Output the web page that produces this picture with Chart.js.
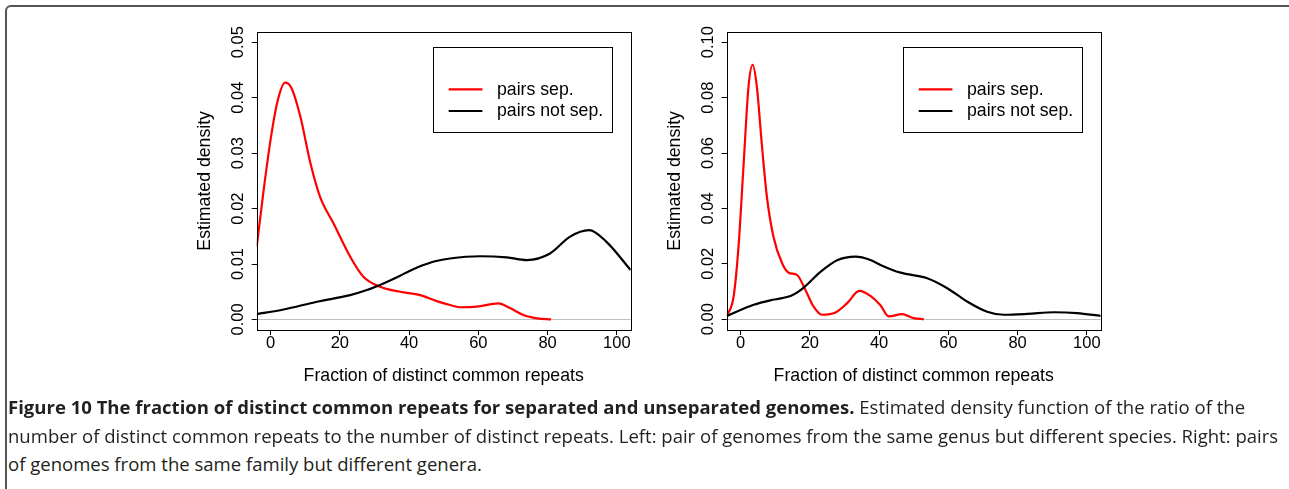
<!DOCTYPE html>
<html><head><meta charset="utf-8">
<script src="https://cdn.jsdelivr.net/npm/chart.js@4.4.1/dist/chart.umd.min.js"></script>
<style>
html,body{margin:0;padding:0;background:#fff;width:1289px;height:489px;overflow:hidden;}
#frame{position:absolute;left:5px;top:5px;width:1290px;height:530px;border-top:2px solid #555;border-left:2px solid #555;border-radius:6px;box-sizing:border-box;}
canvas{position:absolute;}
.cap{position:absolute;left:8px;white-space:nowrap;font-family:'Open Sans';font-size:18px;line-height:18px;color:#231f20;transform-origin:0 0;}
.cap b{font-weight:700;}
</style></head>
<body>
<div id="frame"></div>
<canvas id="left" width="450" height="380" style="left:190px;top:20px"></canvas>
<canvas id="right" width="450" height="380" style="left:660px;top:20px"></canvas>
<div class="cap" data-w="1244" style="top:398px"><b>Figure 10 The fraction of distinct common repeats for separated and unseparated genomes.</b> Estimated density function of the ratio of the</div>
<div class="cap" data-w="1263" style="top:426.5px">number of distinct common repeats to the number of distinct repeats. Left: pair of genomes from the same genus but different species. Right: pairs</div>
<div class="cap" style="top:455px">of genomes from the same family but different genera.</div>
<script>
// ---- data ----
const seriesNames = ['pairs sep.', 'pairs not sep.'];
const xTicks = [0, 20, 40, 60, 80, 100];
const xTickLabels = ['0', '20', '40', '60', '80', '100'];
const leftYTicks = [0, 0.01, 0.02, 0.03, 0.04, 0.05];
const leftYTickLabels = ['0.00', '0.01', '0.02', '0.03', '0.04', '0.05'];
const rightYTicks = [0, 0.02, 0.04, 0.06, 0.08, 0.10];
const rightYTickLabels = ['0.00', '0.02', '0.04', '0.06', '0.08', '0.10'];
const xTitle = 'Fraction of distinct common repeats';
const yTitle = 'Estimated density';

const leftSepX = [-4, -2, 0, 2, 4.2, 6, 8.6, 11.5, 14.3, 18.2, 23, 26.8, 31.6, 37.4, 43.2, 48, 51.8, 55, 59.5, 65.8, 69, 73, 77, 81];
const leftSepY = [0.0131, 0.0233, 0.0324, 0.0393, 0.0427, 0.0418, 0.0366, 0.0282, 0.0221, 0.0173, 0.0113, 0.0077, 0.0059, 0.0050, 0.0044, 0.0033, 0.0026, 0.0022, 0.0023, 0.0029, 0.0021, 0.0008, 0.0002, 0];
const leftNotSepX = [-4, 3.75, 13.4, 23, 27.8, 32.6, 37.4, 40, 42.5, 45, 47.5, 51.8, 60.5, 68.2, 74, 80.7, 86.4, 92, 97, 104];
const leftNotSepY = [0.00096, 0.0018, 0.0032, 0.0044, 0.0053, 0.0065, 0.0079, 0.0087, 0.0094, 0.0100, 0.0105, 0.0110, 0.0114, 0.0112, 0.0107, 0.0119, 0.0149, 0.0161, 0.0140, 0.0089];

const rightSepX = [-3.9, -2, -0.6, 0.9, 2.3, 3.5, 4.7, 6.2, 7.6, 9.5, 12, 13.9, 16.3, 18.7, 21.1, 23.5, 27.4, 30.8, 34.3, 37.5, 40.4, 42.8, 46.6, 50, 52.9];
const rightSepY = [0.0012, 0.0082, 0.026, 0.0563, 0.084, 0.0918, 0.084, 0.0623, 0.0443, 0.0298, 0.0202, 0.0168, 0.016, 0.0106, 0.0045, 0.0016, 0.0024, 0.0058, 0.0102, 0.0084, 0.0050, 0.0010, 0.0018, 0.0004, 0];
const rightNotSepX = [-3.9, 3.8, 8.6, 12, 14.6, 16.5, 18.5, 23, 27.9, 33.2, 37.5, 40.4, 46.2, 53.9, 59.7, 65.4, 71.2, 76, 82.8, 90.5, 97.2, 104];
const rightNotSepY = [0.0012, 0.0052, 0.0068, 0.0076, 0.0085, 0.0098, 0.0117, 0.0170, 0.0213, 0.0226, 0.0214, 0.0196, 0.0168, 0.0148, 0.0112, 0.0064, 0.0027, 0.0016, 0.0019, 0.0025, 0.0022, 0.0012];

const AXFONT = '"Liberation Sans", Arial, sans-serif';
const colors = ['#ff0000', '#000000'];

function pts(xs, ys) { return xs.map((x, i) => ({x: x, y: ys[i]})); }

function decorPlugin(yLabels) {
  return {
    id: 'decor',
    beforeDatasetsDraw(chart) {
      const ctx = chart.ctx, a = chart.chartArea, ys = chart.scales.y;
      const py = Math.round(ys.getPixelForValue(0)) + 0.5;
      ctx.save();
      ctx.strokeStyle = '#bebebe'; ctx.lineWidth = 1;
      ctx.beginPath(); ctx.moveTo(a.left, py); ctx.lineTo(a.right, py); ctx.stroke();
      ctx.restore();
    },
    afterDraw(chart) {
      const ctx = chart.ctx, a = chart.chartArea, xs = chart.scales.x, ys = chart.scales.y;
      ctx.save();
      ctx.strokeStyle = '#000'; ctx.lineWidth = 1;
      ctx.strokeRect(Math.round(a.left) + 0.5, Math.round(a.top) + 0.5, Math.round(a.right - a.left), Math.round(a.bottom - a.top));
      ctx.fillStyle = '#000';
      ctx.font = '16.5px ' + AXFONT;
      ctx.textAlign = 'center'; ctx.textBaseline = 'middle';
      ys.ticks.forEach((t, i) => {
        const p = ys.getPixelForValue(t.value);
        ctx.save(); ctx.translate(a.left - 18, p); ctx.rotate(-Math.PI / 2);
        ctx.fillText(yLabels[i], 0, 0); ctx.restore();
      });
      xs.ticks.forEach((t, i) => {
        ctx.fillText(xTickLabels[i], xs.getPixelForValue(t.value), a.bottom + 13.5);
      });
      ctx.font = '17.7px ' + AXFONT;
      ctx.fillText(xTitle, (a.left + a.right) / 2, a.bottom + 46.5);
      ctx.save(); ctx.translate(a.left - 52, (a.top + a.bottom) / 2); ctx.rotate(-Math.PI / 2);
      ctx.fillText(yTitle, 0, 0); ctx.restore();
      const lw = 179, lh = 85;
      const lx = Math.round(a.right - 18.5 - lw), ly = Math.round(a.top + 15);
      ctx.strokeRect(lx + 0.5, ly + 0.5, lw, lh);
      ctx.textAlign = 'left';
      const rows = [42.3, 64];
      seriesNames.forEach((n, i) => {
        ctx.strokeStyle = colors[i]; ctx.lineWidth = 2.2;
        ctx.beginPath(); ctx.moveTo(lx + 15.7, ly + rows[i]); ctx.lineTo(lx + 49.4, ly + rows[i]); ctx.stroke();
        ctx.fillText(n, lx + 64, ly + rows[i] + 0.5);
      });
      ctx.restore();
    }
  };
}

function makeChart(id, sepX, sepY, notX, notY, yTicks, yLabels, yMin, yMax) {
  return new Chart(document.getElementById(id), {
    type: 'line',
    data: {
      datasets: [
        {label: seriesNames[1], data: pts(notX, notY), borderColor: colors[1], borderWidth: 2.2, pointRadius: 0, cubicInterpolationMode: 'monotone', fill: false},
        {label: seriesNames[0], data: pts(sepX, sepY), borderColor: colors[0], borderWidth: 2.2, pointRadius: 0, cubicInterpolationMode: 'monotone', fill: false}
      ]
    },
    options: {
      responsive: false, animation: false, devicePixelRatio: 1,
      layout: {padding: {left: 66.7, top: 11.7, right: 9.3, bottom: 70}},
      plugins: {legend: {display: false}, tooltip: {enabled: false}},
      scales: {
        x: {type: 'linear', min: -4, max: 104,
            afterFit(s) { s.height = 0; },
            afterBuildTicks(s) { s.ticks = xTicks.map(v => ({value: v})); },
            ticks: {display: false, autoSkip: false},
            grid: {drawOnChartArea: false, drawTicks: true, tickLength: 5, color: '#000', lineWidth: 1},
            border: {display: false}},
        y: {type: 'linear', min: yMin, max: yMax,
            afterFit(s) { s.width = 0; },
            afterBuildTicks(s) { s.ticks = yTicks.map(v => ({value: v})); },
            ticks: {display: false, autoSkip: false},
            grid: {drawOnChartArea: false, drawTicks: true, tickLength: 5, color: '#000', lineWidth: 1},
            border: {display: false}}
      }
    },
    plugins: [decorPlugin(yLabels)]
  });
}

makeChart('left', leftSepX, leftSepY, leftNotSepX, leftNotSepY, leftYTicks, leftYTickLabels, -0.0019, 0.0519);
makeChart('right', rightSepX, rightSepY, rightNotSepX, rightNotSepY, rightYTicks, rightYTickLabels, -0.0039, 0.1038);

function fitCaps() {
  const els = Array.from(document.querySelectorAll('.cap'));
  els.forEach(el => { el.style.transform = 'none'; });
  let sum = 0, n = 0;
  els.forEach(el => {
    if (el.dataset.w) { sum += (+el.dataset.w) / el.getBoundingClientRect().width; n++; }
  });
  const s = sum / n;
  els.forEach(el => { el.style.transform = 'scaleX(' + s + ')'; });
}
fitCaps();
if (document.fonts && document.fonts.ready) document.fonts.ready.then(fitCaps);
</script>
</body></html>
